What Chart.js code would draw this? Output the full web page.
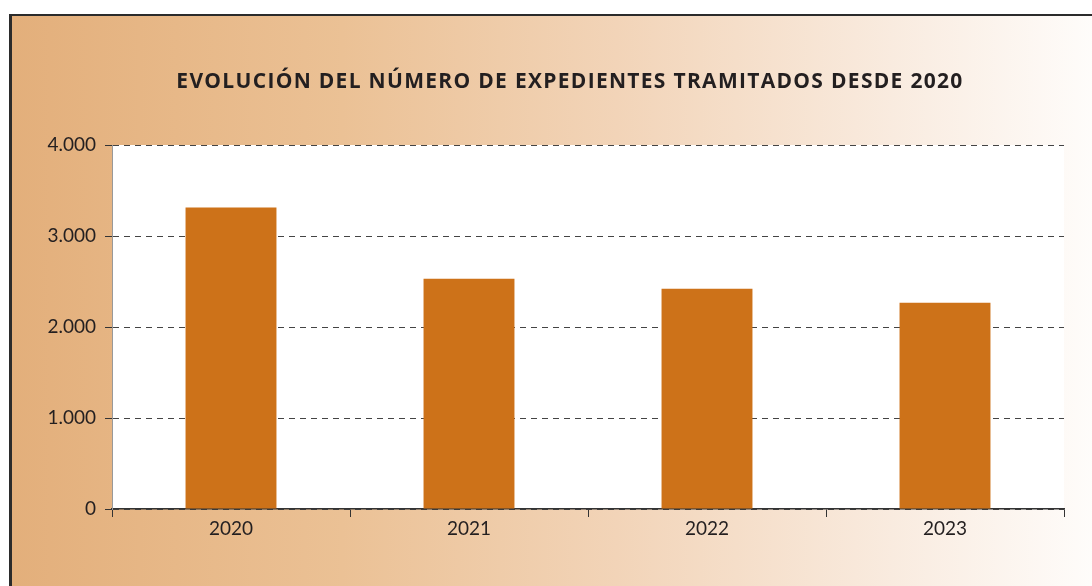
<!DOCTYPE html>
<html>
<head>
<meta charset="utf-8">
<script src="https://cdn.jsdelivr.net/npm/chart.js@4/dist/chart.umd.min.js"></script>
<style>
  html, body { margin: 0; padding: 0; background: #fff; }
  #wrap { position: relative; width: 1092px; height: 586px; overflow: hidden; }
  #frame {
    position: absolute; left: 9px; top: 14px; right: -20px; bottom: -20px;
    border-top: 2px solid #2b2b2b; border-left: 3px solid #2b2b2b;
    background: linear-gradient(to right, #e3af7b 0%, #ebc195 30%, #f2d4b8 55%, #f9ebdf 80%, #fffefd 100%);
  }
  #box { position: absolute; left: 0; top: 0; width: 1092px; height: 586px; }
</style>
</head>
<body>
<div id="wrap">
  <div id="frame"></div>
  <div id="box"><canvas id="expChart"></canvas></div>
</div>
<script>
// datos
const years = ['2020', '2021', '2022', '2023'];
const expedientes = [3313, 2530, 2420, 2266];
const yTicks = [0, 1000, 2000, 3000, 4000];
const chartTitle = 'EVOLUCIÓN DEL NÚMERO DE EXPEDIENTES TRAMITADOS DESDE 2020';

const textColor = '#231f20';
const barColor = '#cd7219';

// fondo blanco solo en el area del grafico
const plotBg = {
    id: 'plotBg',
    beforeDraw(chart) {
        const a = chart.chartArea;
        const ctx = chart.ctx;
        ctx.save();
        ctx.fillStyle = '#ffffff';
        ctx.fillRect(a.left, a.top, a.right - a.left, a.bottom - a.top);
        ctx.restore();
    }
};

// titulo centrado sobre el recuadro (no sobre el area del grafico)
const bigTitle = {
    id: 'bigTitle',
    afterDraw(chart) {
        const ctx = chart.ctx;
        ctx.save();
        ctx.font = 'bold 21px "Open Sans"';
        ctx.letterSpacing = '1.3px';
        ctx.fillStyle = textColor;
        ctx.textAlign = 'center';
        ctx.textBaseline = 'middle';
        ctx.fillText(chartTitle, 570, 82);
        ctx.restore();
    }
};

function fmtMiles(v) {
    return String(v).replace(/\B(?=(\d{3})+(?!\d))/g, '.');
}

const ctx = document.getElementById('expChart').getContext('2d');
const expChart = new Chart(ctx, {
    type: 'bar',
    data: {
        labels: years,
        datasets: [{
            data: expedientes,
            backgroundColor: barColor,
            borderWidth: 0,
            categoryPercentage: 1,
            barPercentage: 0.382
        }]
    },
    options: {
        responsive: true,
        maintainAspectRatio: false,
        animation: false,
        layout: { padding: { left: 0, right: 28, top: 145, bottom: 0 } },
        plugins: {
            legend: { display: false },
            tooltip: { enabled: false },
            title: { display: false }
        },
        scales: {
            x: {
                afterFit(scale) { scale.height = 77; },
                grid: {
                    display: true,
                    offset: true,
                    drawOnChartArea: false,
                    drawTicks: true,
                    tickLength: 8,
                    color: '#333',
                    lineWidth: 1
                },
                border: { display: true, color: '#333', width: 1.5 },
                ticks: {
                    color: textColor,
                    padding: 0,
                    font: { family: 'Lato', size: 19 }
                }
            },
            y: {
                min: 0,
                max: 4000,
                afterFit(scale) { scale.width = 112; },
                afterBuildTicks(scale) { scale.ticks = yTicks.map(v => ({ value: v })); },
                grid: {
                    color: '#444',
                    lineWidth: 1,
                    tickLength: 7,
                    tickColor: '#333',
                    tickBorderDash: []
                },
                border: { display: true, color: '#999', width: 1, dash: [6, 5] },
                ticks: {
                    color: textColor,
                    padding: 9,
                    font: { family: 'Lato', size: 19 },
                    callback: v => fmtMiles(v)
                }
            }
        }
    },
    plugins: [plotBg, bigTitle]
});
// la linea de rejilla punteada
expChart.options.scales.y.grid.borderDash = [6, 5];
expChart.update();
</script>
</body>
</html>
